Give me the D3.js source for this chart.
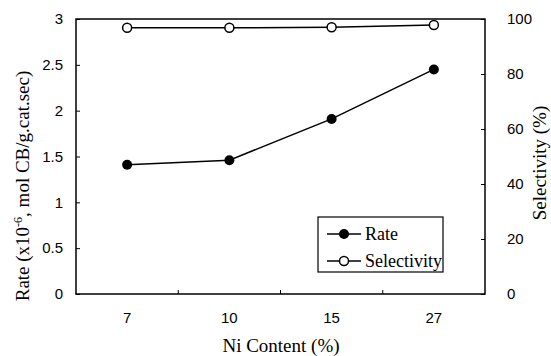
<!DOCTYPE html>
<html><head><meta charset="utf-8">
<script src="https://cdn.jsdelivr.net/npm/d3@7"></script>
<style>body{margin:0;background:#fff}svg{display:block}</style>
</head><body>
<svg id="c" width="551" height="356"></svg>
<script>
const categories = ["7", "10", "15", "27"];
const rateValues = [1.41, 1.46, 1.91, 2.45];
const selectivityValues = [96.8, 96.8, 97.0, 97.8];
const leftTicks = [0, 0.5, 1, 1.5, 2, 2.5, 3];
const leftTickLabels = ["0", "0.5", "1", "1.5", "2", "2.5", "3"];
const rightTicks = [0, 20, 40, 60, 80, 100];
const seriesNames = ["Rate", "Selectivity"];

const svg = d3.select("#c");
const L = 76, R = 485, T = 19, B = 294;
const x = d3.scaleBand().domain(categories).range([L, R]).padding(0);
const yL = d3.scaleLinear().domain([0, 3]).range([B, T]);
const yR = d3.scaleLinear().domain([0, 100]).range([B, T]);
const sans = "'Liberation Sans', Arial, sans-serif";
const serif = "'Liberation Serif', 'Times New Roman', serif";

// left axis (inner ticks)
const gl = svg.append("g").attr("transform", `translate(${L},0)`)
  .call(d3.axisLeft(yL).tickValues(leftTicks).tickSize(-4).tickPadding(13)
    .tickFormat((d, i) => leftTickLabels[i]));
// right axis
const gr = svg.append("g").attr("transform", `translate(${R},0)`)
  .call(d3.axisRight(yR).tickValues(rightTicks).tickSize(-4).tickPadding(22));
// bottom axis: ticks at category boundaries
const boundaries = categories.slice(1).map(c => x(c));
const gb = svg.append("g").attr("transform", `translate(0,${B})`)
  .call(d3.axisBottom(x).tickSize(0).tickPadding(18));
gb.selectAll(".tick").select("line").remove();
gb.selectAll(".bnd").data(boundaries).join("line").attr("class", "bnd")
  .attr("x1", d => d).attr("x2", d => d).attr("y1", 0).attr("y2", -4)
  .attr("stroke", "#000").attr("stroke-width", 1);

[gl, gr, gb].forEach(g => {
  g.select(".domain").remove();
  g.selectAll("text").attr("font-family", sans).attr("font-size", 15).attr("fill", "#000");
  g.selectAll(".tick line").attr("stroke", "#000").attr("stroke-width", 1);
});

// frame
svg.append("rect").attr("x", L).attr("y", T).attr("width", R - L).attr("height", B - T)
  .attr("fill", "none").attr("stroke", "#000").attr("stroke-width", 1.5);

// lines
const rateLine = d3.line().x((d, i) => x(categories[i]) + x.bandwidth() / 2).y(d => yL(d));
const selLine = d3.line().x((d, i) => x(categories[i]) + x.bandwidth() / 2).y(d => yR(d));
svg.append("path").attr("d", rateLine(rateValues)).attr("fill", "none").attr("stroke", "#000").attr("stroke-width", 1.5);
svg.append("path").attr("d", selLine(selectivityValues)).attr("fill", "none").attr("stroke", "#000").attr("stroke-width", 1.5);
svg.selectAll(".rp").data(rateValues).join("circle").attr("class", "rp")
  .attr("cx", (d, i) => x(categories[i]) + x.bandwidth() / 2).attr("cy", d => yL(d))
  .attr("r", 5).attr("fill", "#000");
svg.selectAll(".sp").data(selectivityValues).join("circle").attr("class", "sp")
  .attr("cx", (d, i) => x(categories[i]) + x.bandwidth() / 2).attr("cy", d => yR(d))
  .attr("r", 4.5).attr("fill", "#fff").attr("stroke", "#000").attr("stroke-width", 1.5);

// axis titles
svg.append("text").attr("x", 281).attr("y", 352).attr("text-anchor", "middle")
  .attr("font-family", serif).attr("font-size", 19).text("Ni Content (%)");
const lt = svg.append("text").attr("transform", "translate(29,186) rotate(-90)")
  .attr("text-anchor", "middle").attr("font-family", serif).attr("font-size", 19);
lt.append("tspan").text("Rate (x10");
lt.append("tspan").attr("dy", -7).attr("font-size", 12).text("-6");
lt.append("tspan").attr("dy", 7).text(", mol CB/g.cat.sec)");
svg.append("text").attr("transform", "translate(546,163) rotate(-90)")
  .attr("text-anchor", "middle").attr("font-family", serif).attr("font-size", 19)
  .text("Selectivity (%)");

// legend
const lg = svg.append("g");
lg.append("rect").attr("x", 318).attr("y", 217).attr("width", 125).attr("height", 55)
  .attr("fill", "#fff").attr("stroke", "#000").attr("stroke-width", 1.2);
const rows = [234, 261];
seriesNames.forEach((name, i) => {
  const yy = rows[i];
  lg.append("line").attr("x1", 327).attr("x2", 361).attr("y1", yy).attr("y2", yy)
    .attr("stroke", "#000").attr("stroke-width", 1.5);
  lg.append("circle").attr("cx", 344).attr("cy", yy).attr("r", i === 0 ? 5 : 4.5)
    .attr("fill", i === 0 ? "#000" : "#fff").attr("stroke", "#000").attr("stroke-width", i === 0 ? 0 : 1.5);
  lg.append("text").attr("x", 365).attr("y", yy + 6).attr("font-family", serif)
    .attr("font-size", 18).text(name);
});
</script>
</body></html>
